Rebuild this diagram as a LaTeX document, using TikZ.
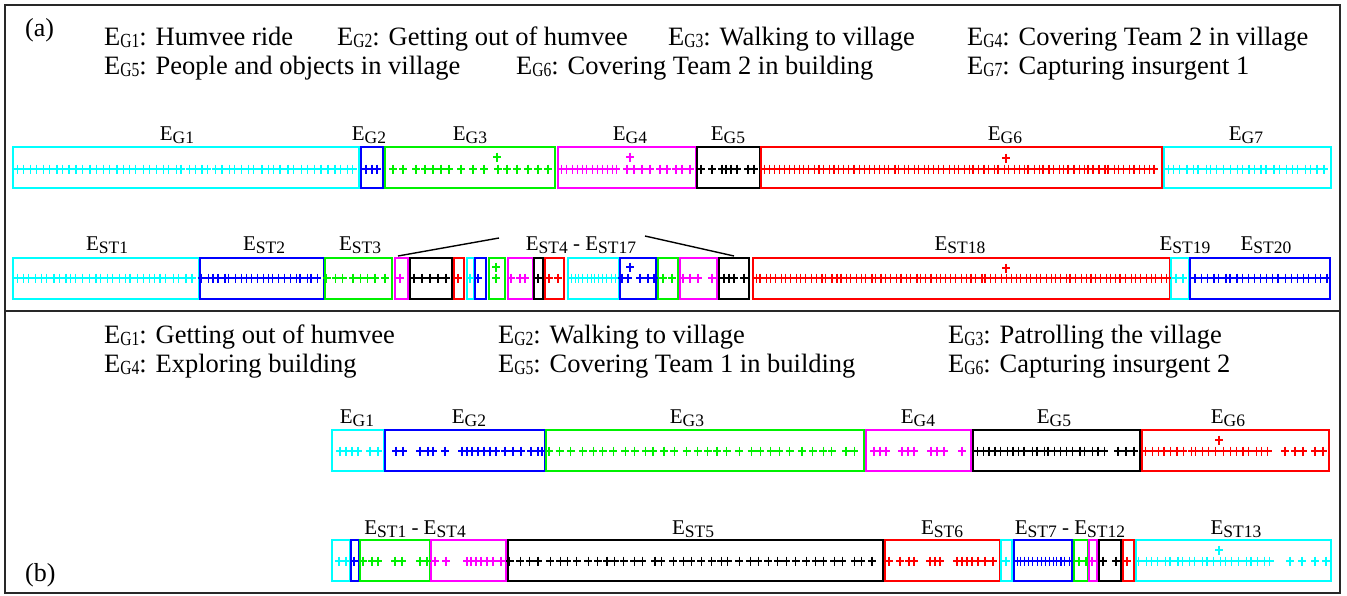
\documentclass[tikz,border=0pt]{standalone}
\usepackage{fontspec}
\setmainfont{Liberation Serif}
\definecolor{cC}{RGB}{0,255,255}
\definecolor{cB}{RGB}{0,0,255}
\definecolor{cG}{RGB}{0,240,0}
\definecolor{cM}{RGB}{255,0,255}
\definecolor{cR}{RGB}{255,0,0}
\definecolor{cK}{RGB}{0,0,0}
\definecolor{frame}{RGB}{40,40,40}
\tikzset{
  seg/.style={line width=2pt},
  plusline/.style={line width=1.2pt},
  legend/.style={anchor=base west, inner sep=0pt, font=\fontsize{26.5}{30}\selectfont},
  lbl/.style={anchor=base, inner sep=0pt, font=\fontsize{21}{24}\selectfont},
  tag/.style={anchor=base west, inner sep=0pt, font=\fontsize{26}{30}\selectfont},
}
% event names: large legend form and smaller box-label form
\newcommand\Eleg[1]{E\raisebox{-2.5pt}{\scalebox{0.78}[1]{\fontsize{20}{22}\selectfont #1}}}
\newcommand\Elbl[1]{E\raisebox{-3pt}{\fontsize{17.5}{20}\selectfont #1}}
% segment box: colour, x-left, x-right, y-top, y-bottom
\newcommand\bx[5]{\draw[#1,seg] (#2,#4) rectangle (#3,#5);}
% one '+' sample marker
\newcommand\plus[3]{\draw[#1,plusline] (#2-4,#3)--(#2+4,#3) (#2,#3-4.5)--(#2,#3+4.5);}
% a run of markers: colour, start, step, end, y (slightly jittered)
\newcommand\run[5]{%
  \pgfmathtruncatemacro\nn{(#4-#2)/#3}%
  \foreach \i in {0,...,\nn}{%
    \pgfmathsetmacro\xx{#2+\i*#3+rand*#3*0.2}%
    \plus{#1}{\xx}{#5}}}
% markers at given positions
\newcommand\pts[3]{\foreach \xx in {#2}{\plus{#1}{\xx}{#3}}}
\begin{document}
\begin{tikzpicture}[x=1pt,y=-1pt]
\pgfmathsetseed{11}
\useasboundingbox (0,0) rectangle (1347,595);
% outer frame and divider
\draw[frame,line width=1.6pt] (5,5) rectangle (1340,593);
\draw[frame,line width=1.6pt] (5,311) -- (1340,311);

%% ---------------- panel (a) ----------------
\node[tag] (ta) at (25,36) {(a)};
\node[legend] (la1) at (104,45) {\Eleg{G1}: Humvee ride};
\node[legend] (la2) at (337,45) {\Eleg{G2}: Getting out of humvee};
\node[legend] (la3) at (668,45) {\Eleg{G3}: Walking to village};
\node[legend] (la4) at (967,45) {\Eleg{G4}: Covering Team 2 in village};
\node[legend] (la5) at (104,74) {\Eleg{G5}: People and objects in village};
\node[legend] (la6) at (516,74) {\Eleg{G6}: Covering Team 2 in building};
\node[legend] (la7) at (967,74) {\Eleg{G7}: Capturing insurgent 1};

% group events
\node[lbl] (ag1) at (177,140) {\Elbl{G1}};
\node[lbl] (ag2) at (369,140) {\Elbl{G2}};
\node[lbl] (ag3) at (470,140) {\Elbl{G3}};
\node[lbl] (ag4) at (630,140) {\Elbl{G4}};
\node[lbl] (ag5) at (728,140) {\Elbl{G5}};
\node[lbl] (ag6) at (1005,140) {\Elbl{G6}};
\node[lbl] (ag7) at (1246,140) {\Elbl{G7}};
\bx{cC}{13}{359}{146.5}{188}
\bx{cB}{360.5}{383}{146.5}{188}
\bx{cG}{385}{554.5}{146.5}{188}
\bx{cM}{557.5}{696}{146.5}{188}
\bx{cK}{696.5}{760}{146.5}{188}
\bx{cR}{760.5}{1162}{146.5}{188}
\bx{cC}{1163.5}{1331}{146.5}{188}
\run{cC}{17}{6.6}{355}{169}
\pts{cB}{366,372,377}{169}
\pts{cG}{393,403,416,425,433,441,449,461,473,484,498,507,517,528,538,548}{169}
\pts{cG}{497}{157}
\run{cM}{562}{5}{620}{169}
\pts{cM}{627,634,642,650,660,667,676,682,690}{169}
\pts{cM}{630}{157}
\pts{cK}{701,712,722,726,731,737,748,754}{169}
\run{cR}{764}{5}{1158}{169}
\pts{cR}{1006}{158}
\run{cC}{1168}{6.2}{1326}{169}

% sub-team events
\node[lbl] (as1) at (107,250) {\Elbl{ST1}};
\node[lbl] (as2) at (264,250) {\Elbl{ST2}};
\node[lbl] (as3) at (360,250) {\Elbl{ST3}};
\node[lbl] (as4) at (581,250) {\Elbl{ST4} - \Elbl{ST17}};
\node[lbl] (as18) at (960,250) {\Elbl{ST18}};
\node[lbl] (as19) at (1185,250) {\Elbl{ST19}};
\node[lbl] (as20) at (1266,250) {\Elbl{ST20}};
\bx{cC}{13}{199}{257.5}{299}
\bx{cB}{199.5}{323.5}{257.5}{299}
\bx{cG}{324.5}{392}{257.5}{299}
\bx{cM}{394.5}{407.5}{257.5}{299}
\bx{cK}{409.5}{451.5}{257.5}{299}
\bx{cR}{453.5}{464}{257.5}{299}
\bx{cC}{466.5}{474}{257.5}{299}
\bx{cB}{474.5}{486}{257.5}{299}
\bx{cG}{489}{504.5}{257.5}{299}
\bx{cM}{507.5}{532.5}{257.5}{299}
\bx{cK}{534}{543}{257.5}{299}
\bx{cR}{544.5}{563.5}{257.5}{299}
\bx{cC}{567.5}{618.5}{257.5}{299}
\bx{cB}{620}{656}{257.5}{299}
\bx{cG}{658}{677.5}{257.5}{299}
\bx{cM}{679.5}{716.5}{257.5}{299}
\bx{cK}{719}{749}{257.5}{299}
\bx{cR}{752.5}{1170}{257.5}{299}
\bx{cC}{1171}{1189}{257.5}{299}
\bx{cB}{1190}{1330}{257.5}{299}
\run{cC}{17}{6}{196}{278}
\run{cB}{202}{5.5}{320}{278}
\run{cG}{328}{8}{388}{278}
\pts{cM}{400}{278}
\pts{cK}{414,422,430,438,446}{278}
\pts{cR}{458}{278}
\pts{cC}{470}{278}
\pts{cB}{478}{278}
\pts{cG}{496}{278}
\pts{cG}{496}{267}
\pts{cM}{511,520,525}{278}
\pts{cK}{538}{278}
\pts{cR}{549,558}{278}
\run{cC}{571}{4}{615}{278}
\pts{cB}{622,628,640,648,654}{278}
\pts{cB}{630}{267}
\pts{cG}{663,672}{278}
\pts{cM}{683,690,698,712}{278}
\pts{cK}{724,729,734,744}{278}
\run{cR}{756}{5}{1166}{278}
\pts{cR}{1006}{268}
\pts{cC}{1176,1183}{278}
\run{cB}{1195}{6}{1327}{278}

% zoom bracket over ST4 - ST17
\coordinate (bl0) at (398,256);
\coordinate (bl1) at (499,238);
\coordinate (br0) at (645,236);
\coordinate (br1) at (734,256);
\draw[line width=1.4pt] (bl0) -- (bl1);
\draw[line width=1.4pt] (br0) -- (br1);

%% ---------------- panel (b) ----------------
\node[tag] (tb) at (25,581) {(b)};
\node[legend] (lb1) at (104,343) {\Eleg{G1}: Getting out of humvee};
\node[legend] (lb2) at (498,343) {\Eleg{G2}: Walking to village};
\node[legend] (lb3) at (948,343) {\Eleg{G3}: Patrolling the village};
\node[legend] (lb4) at (104,372) {\Eleg{G4}: Exploring building};
\node[legend] (lb5) at (498,372) {\Eleg{G5}: Covering Team 1 in building};
\node[legend] (lb6) at (948,372) {\Eleg{G6}: Capturing insurgent 2};

\node[lbl] (bg1) at (357,423) {\Elbl{G1}};
\node[lbl] (bg2) at (469,423) {\Elbl{G2}};
\node[lbl] (bg3) at (687,423) {\Elbl{G3}};
\node[lbl] (bg4) at (918,423) {\Elbl{G4}};
\node[lbl] (bg5) at (1054,423) {\Elbl{G5}};
\node[lbl] (bg6) at (1228,423) {\Elbl{G6}};
\bx{cC}{332}{383.5}{429.5}{470.5}
\bx{cB}{384.5}{544.5}{429.5}{470.5}
\bx{cG}{545.5}{864}{429.5}{470.5}
\bx{cM}{866}{970.5}{429.5}{470.5}
\bx{cK}{972.5}{1139.5}{429.5}{470.5}
\bx{cR}{1141.5}{1328.5}{429.5}{470.5}
\pts{cC}{340,346,352,358,370,378}{451}
\pts{cB}{396,403,420,428,433,445,462,467,472,478,484,490,496,505,513,521,531,538,542}{451}
\run{cG}{550}{10.5}{858}{451}
\pts{cM}{874,880,886,902,908,914,931,937,944,962}{451}
\run{cK}{977}{6}{1108}{451}
\pts{cK}{1118,1126,1134}{451}
\run{cR}{1145}{6.5}{1272}{451}
\pts{cR}{1285,1295,1303,1315,1323}{451}
\pts{cR}{1219}{440}

\node[lbl] (bs1) at (415,534) {\Elbl{ST1} - \Elbl{ST4}};
\node[lbl] (bs5) at (693,534) {\Elbl{ST5}};
\node[lbl] (bs6) at (942,534) {\Elbl{ST6}};
\node[lbl] (bs7) at (1070,534) {\Elbl{ST7} - \Elbl{ST12}};
\node[lbl] (bs13) at (1236,534) {\Elbl{ST13}};
\bx{cC}{332}{349.5}{539.5}{581}
\bx{cB}{350.5}{358.5}{539.5}{581}
\bx{cG}{360}{429.5}{539.5}{581}
\bx{cM}{431}{505.5}{539.5}{581}
\bx{cK}{507.5}{883}{539.5}{581}
\bx{cR}{884.5}{999.5}{539.5}{581}
\bx{cC}{1001}{1012}{539.5}{581}
\bx{cB}{1014}{1072}{539.5}{581}
\bx{cG}{1074}{1088}{539.5}{581}
\bx{cM}{1089}{1096.5}{539.5}{581}
\bx{cK}{1098.5}{1121}{539.5}{581}
\bx{cR}{1122.5}{1134}{539.5}{581}
\bx{cC}{1135.5}{1331}{539.5}{581}
\pts{cC}{339,346}{561}
\pts{cB}{354}{561}
\pts{cG}{363,372,378,395,402,420,427}{561}
\pts{cM}{435,446,467,471,476,481,487,493,501}{561}
\run{cK}{511}{9.5}{879}{561}
\pts{cR}{889,900,909,914,930,935,940,957,962,967,972,978,985,993}{561}
\pts{cC}{1006}{561}
\run{cB}{1017}{4}{1069}{561}
\pts{cG}{1079,1086}{561}
\pts{cM}{1092}{561}
\pts{cK}{1103,1116}{561}
\pts{cR}{1127}{561}
\run{cC}{1140}{6.2}{1276}{561}
\pts{cC}{1290,1302,1315,1326}{561}
\pts{cC}{1219}{550}
\end{tikzpicture}
\end{document}
